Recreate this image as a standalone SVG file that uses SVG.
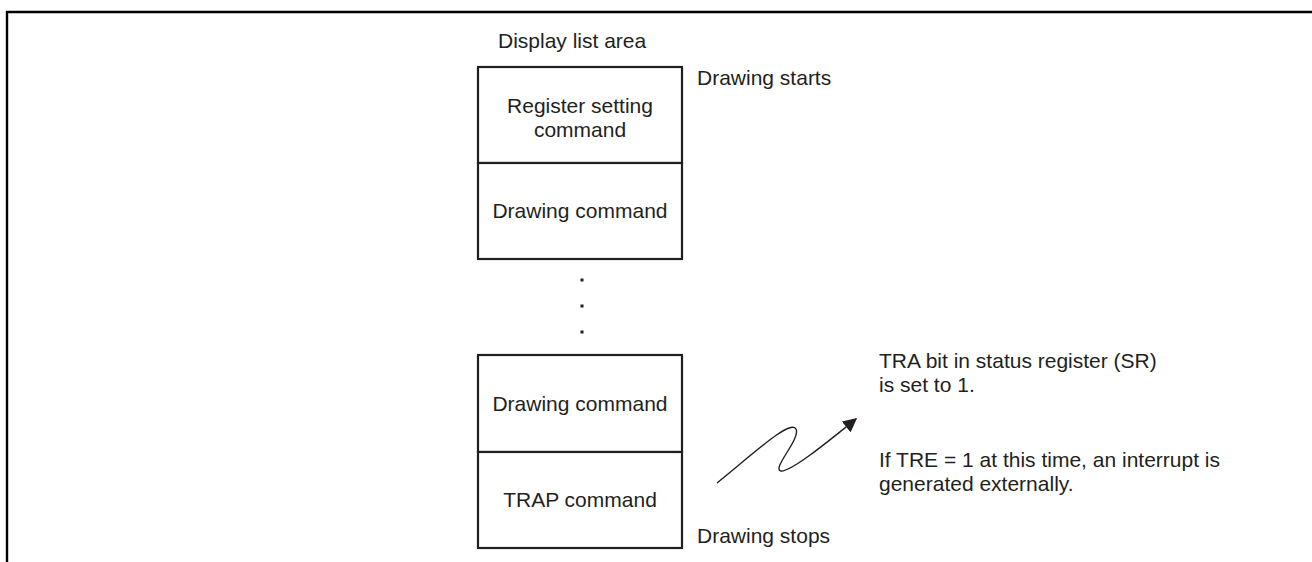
<svg xmlns="http://www.w3.org/2000/svg" width="1312" height="562" viewBox="0 0 1312 562">
<defs>
<style>
text{font-family:"Liberation Sans",Arial,sans-serif;font-size:21px;fill:#231f20}
.c{text-anchor:middle}
.box{fill:#fff;stroke:#231f20;stroke-width:2.2}
</style>
<marker id="ah" viewBox="0 0 10 10" refX="9" refY="5" markerWidth="14" markerHeight="14" markerUnits="userSpaceOnUse" orient="auto">
<path d="M0,0 L10,5 L0,10 Z" fill="#231f20"/>
</marker>
</defs>
<rect width="1312" height="562" fill="#fff"/>
<path d="M7,562 V12 H1312" fill="none" stroke="#000" stroke-width="2.4"/>
<text x="498" y="48">Display list area</text>
<g id="reg">
<rect class="box" x="478" y="67" width="204" height="96"/>
<text class="c" x="580" y="113">Register setting</text>
<text class="c" x="580" y="137">command</text>
</g>
<g id="draw1">
<rect class="box" x="478" y="163" width="204" height="96"/>
<text class="c" x="580" y="218">Drawing command</text>
</g>
<g id="dots" fill="#231f20">
<rect x="580.5" y="278.5" width="3" height="3"/>
<rect x="580.5" y="304.5" width="3" height="3"/>
<rect x="580.5" y="330.5" width="3" height="3"/>
</g>
<g id="draw2">
<rect class="box" x="478" y="355" width="204" height="97"/>
<text class="c" x="580" y="411">Drawing command</text>
</g>
<g id="trap">
<rect class="box" x="478" y="452" width="204" height="96"/>
<text class="c" x="580" y="507">TRAP command</text>
</g>
<text x="697" y="85">Drawing starts</text>
<text x="697" y="543">Drawing stops</text>
<g id="connectors">
<path d="M717,483 C752,455 790,419 796,429 C801,439 771,469 781,471 C791,472 830,440 856,419" fill="none" stroke="#231f20" stroke-width="1.4" marker-end="url(#ah)"/>
</g>
<g id="note">
<text x="879" y="368">TRA bit in status register (SR)</text>
<text x="879" y="392">is set to 1.</text>
<text x="879" y="467">If TRE = 1 at this time, an interrupt is</text>
<text x="879" y="491">generated externally.</text>
</g>
</svg>
